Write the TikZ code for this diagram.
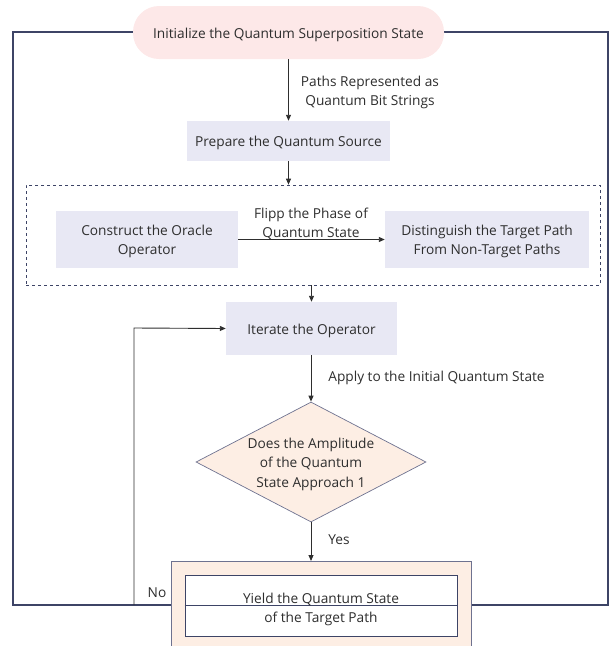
\documentclass[tikz,border=0pt]{standalone}
\usepackage{fontspec}
\setmainfont{Open Sans}
\usetikzlibrary{shapes.geometric,arrows.meta}
\definecolor{navy}{HTML}{3D4466}
\definecolor{pillfill}{HTML}{FDE8E8}
\definecolor{lav}{HTML}{E8E8F4}
\definecolor{peach}{HTML}{FDEEE4}
\definecolor{dgray}{HTML}{6E7290}
\definecolor{txt}{HTML}{2E2E2E}
\tikzset{
  every node/.style={font=\fontsize{13.7}{19.5}\selectfont, text=txt},
  lavbox/.style={fill=lav, draw=none, inner sep=0pt},
  conn/.style={draw=txt, line width=0.9pt, -{Triangle[length=6pt,width=5pt]}},
  lbl/.style={align=center, inner sep=0pt, yshift=-2pt},
}
\begin{document}
\begin{tikzpicture}[x=1pt,y=-1pt]
\useasboundingbox (0,0) rectangle (610,646);
% outer frame
\draw[navy, line width=1.6pt] (13,32) rectangle (608,605);
% top pill
\node[fill=pillfill, rounded corners=26pt, minimum width=311pt, minimum height=53pt, inner sep=0pt] (init) at (288.5,32.5) {};
\node[lbl] (initT) at (init) {Initialize the Quantum Superposition State};
% prepare
\node[lavbox, minimum width=203pt, minimum height=40pt] (prep) at (288.5,141) {};
\node[lbl] (prepT) at (prep) {Prepare the Quantum Source};
% dashed group
\node[draw=navy, dashed, line width=0.7pt, minimum width=574pt, minimum height=100pt, inner sep=0pt] (grp) at (313,235) {};
\node[lavbox, minimum width=182pt, minimum height=57pt] (oracle) at (147,239.5) {};
\node[lbl] (oracleT) at (oracle) {Construct the Oracle\\Operator};
\node[lavbox, minimum width=204pt, minimum height=57pt] (dist) at (487,239.5) {};
\node[lbl] (distT) at (dist) {Distinguish the Target Path\\From Non-Target Paths};
% iterate
\node[lavbox, minimum width=171pt, minimum height=53pt] (iter) at (311.5,328.5) {};
\node[lbl] (iterT) at (iter) {Iterate the Operator};
% diamond
\node[diamond, aspect=1.9167, fill=peach, draw=dgray, line width=0.7pt, minimum width=230pt, minimum height=120pt, inner sep=0pt] (dec) at (311,462) {};
\node[lbl] (dectext) at (dec) {Does the Amplitude\\of the Quantum\\State Approach 1};
% bottom outer box
\node[fill=peach, draw=dgray, line width=0.8pt, minimum width=300pt, minimum height=100pt, inner sep=0pt, anchor=north] (outb) at (321,561) {};
% inner box
\node[fill=white, draw=navy, line width=0.8pt, minimum width=272pt, minimum height=61pt, inner sep=0pt] (yield) at (321,605.5) {};
\draw[navy, line width=1.6pt] (yield.west) -- (yield.east);
\node[lbl] (y1) at (321,597) {Yield the Quantum State};
\node[lbl] (y2) at (321,617) {of the Target Path};
% connectors
\draw[conn] (init.south -| prep.north) -- (prep.north);
\draw[conn] (prep.south) -- (prep.south |- grp.north);
\draw[conn] (oracle.east) -- (dist.east -| dist.west);
\draw[conn] (iter.north |- grp.south) -- (iter.north);
\draw[conn] (iter.south -| dec.north) -- (dec.north);
\draw[conn] (dec.south) -- (dec.south |- outb.north);
\coordinate (nostart) at (134,605);
\draw[conn] (nostart) -- (134,328) -- (iter.west);
% labels
\node[lbl] (l1) at (370,90.5) {Paths Represented as\\Quantum Bit Strings};
\node[lbl] (l2) at (311,222) {Flipp the Phase of\\Quantum State};
\node[lbl] (l3) at (436.5,376) {Apply to the Initial Quantum State};
\node[lbl] (l4) at (339,538) {Yes};
\node[lbl] (l5) at (157,591) {No};
\end{tikzpicture}
\end{document}
